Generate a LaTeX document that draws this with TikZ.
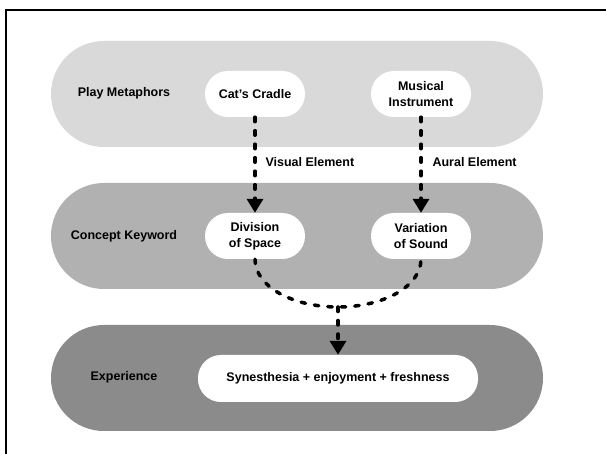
\documentclass[tikz,border=0pt]{standalone}
\usepackage{fontspec}
\setmainfont{Liberation Sans}
\usetikzlibrary{arrows.meta}
\definecolor{layerA}{HTML}{D9D9D9}
\definecolor{layerB}{HTML}{B1B1B1}
\definecolor{layerC}{HTML}{8B8B8B}

\begin{document}
\begin{tikzpicture}[x=1pt,y=-1pt,
                    layer/.style={minimum width=492pt,minimum height=106pt,rounded corners=52.9pt,inner sep=0pt},
                    layer label/.style={font=\fontsize{12.5}{16}\selectfont\bfseries,anchor=center},
                    item/.style={fill=white,minimum width=100pt,minimum height=46pt,rounded corners=22.9pt,
                                 inner sep=0pt,align=center,font=\fontsize{12.5}{16}\selectfont\bfseries},
                    flow/.style={line width=3.5pt,line cap=round,dash pattern=on 4.5pt off 9pt,
                                 -{Triangle[width=16pt,length=14pt]}},
                    flow label/.style={font=\fontsize{12.5}{16}\selectfont\bfseries,anchor=west}]
            \useasboundingbox (0,0) rectangle (606,454);
            \draw[line width=2pt] (5.5,454) -- (5.5,10) -- (606,10);
            \node[layer,fill=layerA] (metaphors) at (297,94) {};
            \node[layer,fill=layerB] (concept) at (297,236) {};
            \node[layer,fill=layerC] (experience) at (297,378) {};
            \node[layer label] (metaphors label) at (124,93) {Play Metaphors};
            \node[layer label] (concept label) at (124,236) {Concept Keyword};
            \node[layer label] (experience label) at (124,377) {Experience};
            \node[item] (cradle) at (255,94) {Cat's Cradle};
            \node[item] (instrument) at (421,94) {Musical\\Instrument};
            \node[item] (division) at (255,236) {Division\\of Space};
            \node[item] (variation) at (421,236) {Variation\\of Sound};
            \node[item,minimum width=280pt,minimum height=47pt] (synesthesia) at (338,378.5) {Synesthesia + enjoyment + freshness};
            \coordinate (merge) at (338,307);
            \draw[flow] (cradle) -- (division);
            \draw[flow] (instrument) -- (variation);
            \node[flow label] (visual) at (262,162) {Visual Element};
            \node[flow label] (aural) at (429,162) {Aural Element};
            \draw[flow,-] (division.south) .. controls +(0,27) and (292,307) .. (merge)
                          .. controls (384,307) and +(0,27) .. (variation.south);
            \draw[flow] (merge) -- (synesthesia);
        \end{tikzpicture}
\end{document}
